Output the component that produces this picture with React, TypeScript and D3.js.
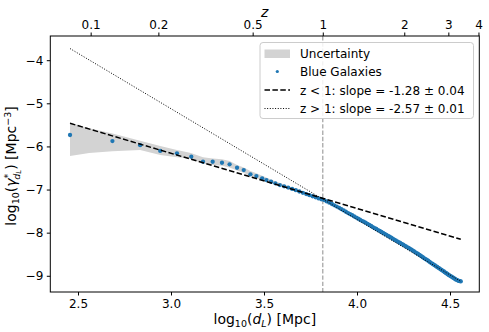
import { useEffect, useRef } from 'react';
import * as d3 from 'd3';

// ── données ────────────────────────────────────────────
// points "Blue Galaxies" (log10 dL, log10 densité)
const PTS_X = [
  2.457, 2.685, 2.834, 2.942, 3.032, 3.109, 3.172, 3.224, 3.274, 3.315, 3.355, 3.391, 3.427, 3.459,
  3.490, 3.513, 3.538, 3.561, 3.585, 3.608, 3.630, 3.651, 3.671, 3.690, 3.709, 3.727, 3.744, 3.761,
  3.777, 3.793, 3.808, 3.823, 3.837, 3.851, 3.865, 3.878, 3.891, 3.904, 3.916, 3.928, 3.940, 3.952,
  3.963, 3.974, 3.985, 3.996, 4.006, 4.016, 4.026, 4.036, 4.046, 4.056, 4.066, 4.076, 4.085, 4.095,
  4.104, 4.113, 4.122, 4.131, 4.140, 4.149, 4.158, 4.167, 4.175, 4.184, 4.192, 4.200, 4.208, 4.216,
  4.224, 4.232, 4.240, 4.248, 4.256, 4.263, 4.271, 4.278, 4.285, 4.293, 4.300, 4.307, 4.314, 4.321,
  4.328, 4.335, 4.342, 4.349, 4.355, 4.362, 4.369, 4.375, 4.382, 4.388, 4.394, 4.401, 4.407, 4.413,
  4.419, 4.425, 4.431, 4.437, 4.443, 4.449, 4.455, 4.461, 4.467, 4.472, 4.478, 4.484, 4.489, 4.495,
  4.500, 4.506, 4.511, 4.517, 4.522, 4.527, 4.533, 4.538, 4.543, 4.548, 4.553, 4.558,
];
const PTS_Y = [
  -5.735, -5.875, -5.970, -6.105, -6.160, -6.239, -6.355, -6.355, -6.378, -6.415, -6.494, -6.548, -6.647, -6.687,
  -6.740, -6.780, -6.819, -6.856, -6.896, -6.925, -6.955, -6.985, -7.015, -7.045, -7.075, -7.105, -7.130, -7.155,
  -7.180, -7.205, -7.225, -7.245, -7.275, -7.305, -7.335, -7.365, -7.395, -7.425, -7.455, -7.485, -7.515, -7.545,
  -7.570, -7.595, -7.625, -7.650, -7.675, -7.700, -7.725, -7.745, -7.770, -7.795, -7.820, -7.845, -7.870, -7.895,
  -7.915, -7.940, -7.960, -7.985, -8.005, -8.030, -8.050, -8.075, -8.095, -8.115, -8.140, -8.160, -8.180, -8.200,
  -8.220, -8.240, -8.260, -8.280, -8.300, -8.320, -8.340, -8.355, -8.375, -8.395, -8.415, -8.435, -8.455, -8.475,
  -8.495, -8.515, -8.535, -8.555, -8.575, -8.595, -8.615, -8.630, -8.650, -8.670, -8.690, -8.710, -8.725, -8.745,
  -8.760, -8.780, -8.795, -8.815, -8.830, -8.850, -8.865, -8.885, -8.900, -8.920, -8.935, -8.950, -8.970, -8.985,
  -9.000, -9.015, -9.030, -9.045, -9.060, -9.075, -9.090, -9.100, -9.110, -9.118, -9.124, -9.130,
];

// bande d'incertitude
const BAND_X = [2.457, 2.56, 2.685, 2.834, 2.942, 3.032, 3.107, 3.172, 3.224, 3.274, 3.315, 3.355, 3.391, 3.427, 3.459, 3.49, 3.55, 3.65, 3.8, 4.0, 4.3, 4.558];
const BAND_HI = [-5.45, -5.58, -5.70, -5.87, -5.99, -6.08, -6.15, -6.25, -6.28, -6.30, -6.34, -6.43, -6.49, -6.57, -6.62, -6.68, -6.79, -6.95, -7.18, -7.63, -8.40, -9.12];
const BAND_LO = [-6.22, -6.15, -6.11, -6.08, -6.20, -6.25, -6.28, -6.40, -6.43, -6.45, -6.49, -6.56, -6.61, -6.69, -6.73, -6.78, -6.86, -7.00, -7.22, -7.65, -8.42, -9.14];

// ajustements (pente, point d'ancrage)
const FIT_LOW = { slope: -1.28, x0: 2.457, y0: -5.464 };
const FIT_HIGH = { slope: -2.57, x0: 2.457, y0: -3.73 };
const FIT_RANGE = [2.457, 4.558];

const Z1_LOGDL = 3.816;

const X_TICKS = [2.5, 3.0, 3.5, 4.0, 4.5];
const Y_TICKS = [-9, -8, -7, -6, -5, -4];
const Z_LABELS = ['0.1', '0.2', '0.5', '1', '2', '3', '4'];
const Z_LOGDL = [2.568, 2.932, 3.439, 3.816, 4.254, 4.491, 4.653];

const LEGEND = [
  'Uncertainty',
  'Blue Galaxies',
  'z < 1: slope = -1.28 ± 0.04',
  'z > 1: slope = -2.57 ± 0.01',
];

const W = 489, H = 332;
const M = { left: 50.3, right: 479.3, top: 36, bottom: 292 };
const FONT = 'DejaVu Sans, sans-serif';
const BLUE = '#1f77b4';

export default function App() {
  const ref = useRef<SVGSVGElement>(null);

  useEffect(() => {
    const svg = d3.select(ref.current);
    svg.selectAll('*').remove();

    const x = d3.scaleLinear().domain([2.351, 4.6575]).range([M.left, M.right]);
    const y = d3.scaleLinear().domain([-9.376, -3.439]).range([M.bottom, M.top]);

    // bande
    const area = d3.area<number>()
      .x((_, i) => x(BAND_X[i]))
      .y0((_, i) => y(BAND_LO[i]))
      .y1((_, i) => y(BAND_HI[i]))
      .curve(d3.curveLinear);
    svg.append('path').attr('d', area(BAND_X)).attr('fill', '#d3d3d3');

    // ligne verticale z = 1
    svg.append('line')
      .attr('x1', x(Z1_LOGDL)).attr('x2', x(Z1_LOGDL))
      .attr('y1', M.top).attr('y2', M.bottom)
      .attr('stroke', '#a0a0a0').attr('stroke-width', 1.2).attr('stroke-dasharray', '4.4,1.9');

    // points
    svg.append('g').selectAll('circle')
      .data(PTS_X)
      .join('circle')
      .attr('cx', (d) => x(d))
      .attr('cy', (_, i) => y(PTS_Y[i]))
      .attr('r', 2.15)
      .attr('fill', BLUE);

    // ajustements
    const fitLine = (f: typeof FIT_LOW) => d3.line<number>()
      .x((d) => x(d))
      .y((d) => y(f.y0 + f.slope * (d - f.x0)))(FIT_RANGE);
    svg.append('path').attr('d', fitLine(FIT_LOW)).attr('fill', 'none')
      .attr('stroke', '#000').attr('stroke-width', 1.5).attr('stroke-dasharray', '5.5,2.4');
    svg.append('path').attr('d', fitLine(FIT_HIGH)).attr('fill', 'none')
      .attr('stroke', '#000').attr('stroke-width', 1).attr('stroke-dasharray', '1,1.65');

    // cadre
    svg.append('rect')
      .attr('x', M.left).attr('y', M.top)
      .attr('width', M.right - M.left).attr('height', M.bottom - M.top)
      .attr('fill', 'none').attr('stroke', '#000').attr('stroke-width', 1);

    // axes
    const xAxis = svg.append('g').attr('transform', `translate(0,${M.bottom})`)
      .call(d3.axisBottom(x).tickValues(X_TICKS).tickFormat(d3.format('.1f')).tickSize(3.5).tickPadding(3.5));
    const yAxis = svg.append('g').attr('transform', `translate(${M.left},0)`)
      .call(d3.axisLeft(y).tickValues(Y_TICKS).tickFormat((d) => `\u2212${Math.abs(+d)}`).tickSize(3.5).tickPadding(3.5));
    const zAxis = svg.append('g').attr('transform', `translate(0,${M.top})`)
      .call(d3.axisTop(x).tickValues(Z_LOGDL).tickFormat((_, i) => Z_LABELS[i]).tickSize(3.5).tickPadding(3.5));
    [xAxis, yAxis, zAxis].forEach((g) => {
      g.select('.domain').remove();
      g.selectAll('text').attr('font-family', FONT).attr('font-size', 12).attr('fill', '#000');
      g.selectAll('line').attr('stroke', '#000');
    });

    // libellés
    const xl = svg.append('text').attr('x', (M.left + M.right) / 2).attr('y', 324)
      .attr('text-anchor', 'middle').attr('font-family', FONT).attr('font-size', 14);
    xl.append('tspan').text('log');
    xl.append('tspan').attr('font-size', 9.5).attr('dy', 3).text('10');
    xl.append('tspan').attr('dy', -3).text('(');
    xl.append('tspan').attr('font-style', 'italic').text('d');
    xl.append('tspan').attr('font-style', 'italic').attr('font-size', 9.5).attr('dy', 3).text('L');
    xl.append('tspan').attr('dy', -3).text(') [Mpc]');

    const yl = svg.append('text').attr('transform', `translate(16,${(M.top + M.bottom) / 2 + 2}) rotate(-90)`)
      .attr('text-anchor', 'middle').attr('font-family', FONT).attr('font-size', 14);
    yl.append('tspan').text('log');
    yl.append('tspan').attr('font-size', 9.5).attr('dy', 3).text('10');
    yl.append('tspan').attr('dy', -3).text('(');
    yl.append('tspan').attr('font-style', 'italic').text('γ');
    yl.append('tspan').attr('font-size', 9.5).attr('dy', -5).text('*');
    yl.append('tspan').attr('font-size', 9.5).attr('font-style', 'italic').attr('dx', -6).attr('dy', 8.5).text('d');
    yl.append('tspan').attr('font-size', 7).attr('font-style', 'italic').attr('dy', 1.5).text('L');
    yl.append('tspan').attr('dy', -5).text(') [Mpc');
    yl.append('tspan').attr('font-size', 9.5).attr('dy', -5).text('−3');
    yl.append('tspan').attr('dy', 5).text(']');

    svg.append('text').attr('x', (M.left + M.right) / 2).attr('y', 17)
      .attr('text-anchor', 'middle').attr('font-family', FONT).attr('font-size', 14)
      .attr('font-style', 'italic').text('z');

    // légende
    const lg = svg.append('g').attr('transform', 'translate(260,42.5)');
    lg.append('rect').attr('width', 213.5).attr('height', 76).attr('rx', 3)
      .attr('fill', '#fff').attr('fill-opacity', 0.85).attr('stroke', '#cccccc');
    const rowY = [11, 29, 47.5, 66];
    lg.append('rect').attr('x', 4.5).attr('y', rowY[0] - 4).attr('width', 25.5).attr('height', 8.5).attr('fill', '#d3d3d3');
    lg.append('circle').attr('cx', 17.3).attr('cy', rowY[1]).attr('r', 1.6).attr('fill', BLUE);
    lg.append('line').attr('x1', 4.5).attr('x2', 30).attr('y1', rowY[2]).attr('y2', rowY[2])
      .attr('stroke', '#000').attr('stroke-width', 1.5).attr('stroke-dasharray', '5.5,2.4');
    lg.append('line').attr('x1', 4.5).attr('x2', 30).attr('y1', rowY[3]).attr('y2', rowY[3])
      .attr('stroke', '#000').attr('stroke-width', 1).attr('stroke-dasharray', '1,1.65');
    lg.selectAll('text.lab').data(LEGEND).join('text')
      .attr('class', 'lab')
      .attr('x', 40).attr('y', (_, i) => rowY[i] + 4.5)
      .attr('font-family', FONT).attr('font-size', 12).attr('fill', '#000')
      .text((d) => d);
  }, []);

  return (
    <svg ref={ref} width={W} height={H}
      style={{ position: 'fixed', left: 0, top: 0, background: '#fff', display: 'block' }} />
  );
}
